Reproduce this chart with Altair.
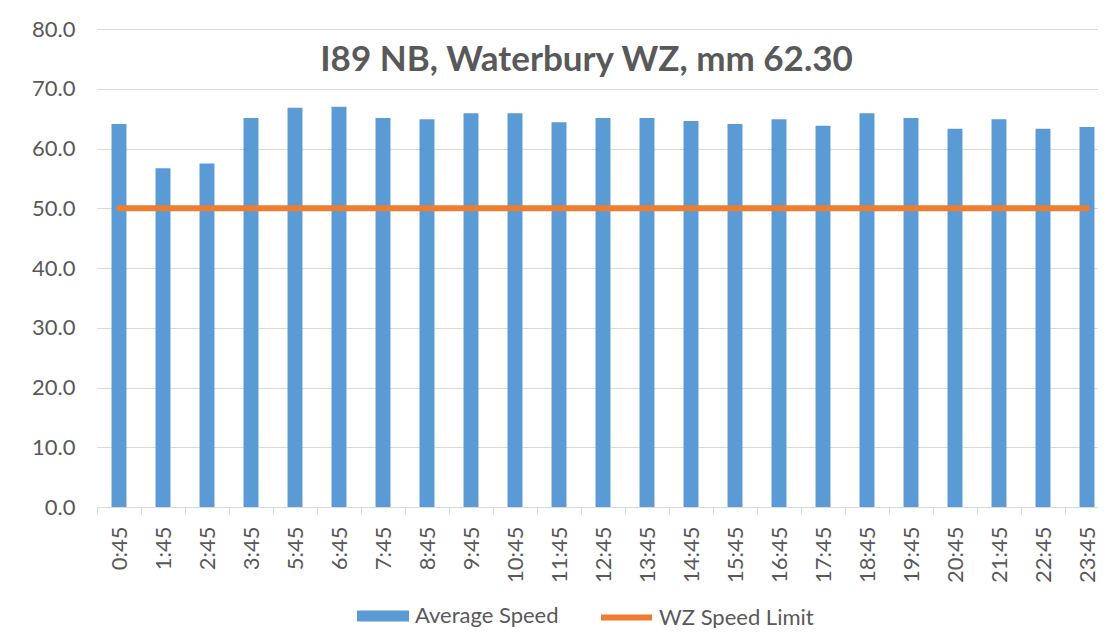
import altair as alt
import pandas as pd

times = ["0:45", "1:45", "2:45", "3:45", "5:45", "6:45", "7:45", "8:45", "9:45",
         "10:45", "11:45", "12:45", "13:45", "14:45", "15:45", "16:45", "17:45",
         "18:45", "19:45", "20:45", "21:45", "22:45", "23:45"]
avg_speed = [64.1, 56.7, 57.5, 65.1, 66.8, 67.0, 65.1, 64.9, 65.9, 65.9, 64.4,
             65.1, 65.1, 64.6, 64.1, 64.9, 63.8, 65.9, 65.1, 63.3, 64.9, 63.3, 63.6]
speed_limit = [50.0, 50.0, 50.0, 50.0, 50.0, 50.0, 50.0, 50.0, 50.0, 50.0, 50.0,
               50.0, 50.0, 50.0, 50.0, 50.0, 50.0, 50.0, 50.0, 50.0, 50.0, 50.0, 50.0]
y_ticks = [0, 10, 20, 30, 40, 50, 60, 70, 80]

df = pd.DataFrame({
    "time": times,
    "avg": avg_speed,
    "limit": speed_limit,
    "bar_series": ["Average Speed"] * len(times),
    "line_series": ["WZ Speed Limit"] * len(times),
})

GREY = "#595959"
GRID = "#D9D9D9"

# the reference is cropped on the right: the category band runs a little past the frame
x_enc = alt.X(
    "time:N", sort=times, title=None,
    scale=alt.Scale(paddingInner=0, paddingOuter=0, range=[0, 1012]),
    axis=alt.Axis(labelAngle=-90, labelFontSize=22, labelColor=GREY,
                  labelPadding=12, tickBand="extent", tickSize=7,
                  tickColor=GRID, domainColor=GRID, grid=False),
)

y_scale = alt.Scale(domain=[0, 80], nice=False)

bars = alt.Chart(df).mark_bar(width=alt.RelativeBandSize(0.34)).encode(
    x=x_enc,
    y=alt.Y("avg:Q", scale=y_scale, title=None,
            axis=alt.Axis(values=y_ticks, format=".1f", labelFontSize=22,
                          labelColor=GREY, labelPadding=22, ticks=False,
                          domain=False, gridColor=GRID)),
    color=alt.Color(
        "bar_series:N",
        scale=alt.Scale(domain=["Average Speed"], range=["#5B9BD5"]),
        legend=alt.Legend(title=None, orient="none", legendX=260, legendY=561,
                          symbolType="M-1,-0.21H1V0.21H-1Z", symbolSize=2704,
                          symbolStrokeWidth=0, symbolOpacity=1,
                          labelFontSize=22, labelColor=GREY, labelOffset=6,
                          padding=0),
    ),
)

line = alt.Chart(df).mark_line(strokeWidth=6, strokeCap="round").encode(
    x=x_enc,
    y=alt.Y("limit:Q", scale=y_scale, title=None),
    stroke=alt.Stroke(
        "line_series:N",
        scale=alt.Scale(domain=["WZ Speed Limit"], range=["#ED7D31"]),
        legend=alt.Legend(title=None, orient="none", legendX=501, legendY=560,
                          symbolType="stroke", symbolSize=2601,
                          symbolStrokeWidth=6, labelFontSize=22,
                          labelColor=GREY, labelOffset=4, padding=0),
    ),
)

chart = alt.layer(bars, line).properties(
    width=1001,
    height=478,
    autosize=alt.AutoSizeParams(type="none"),
    padding={"left": 89, "top": 21, "right": 0, "bottom": 121},
    title=alt.TitleParams(
        text="I89 NB, Waterbury WZ, mm 62.30", fontSize=35, fontWeight="bold",
        color=GREY, anchor="middle", frame="group", offset=0, dy=60,
        dx=-11,
    ),
).configure(font="Lato", background="white").configure_view(stroke=None)

chart.save("out.html", embed_options={"renderer": "svg", "actions": False})
